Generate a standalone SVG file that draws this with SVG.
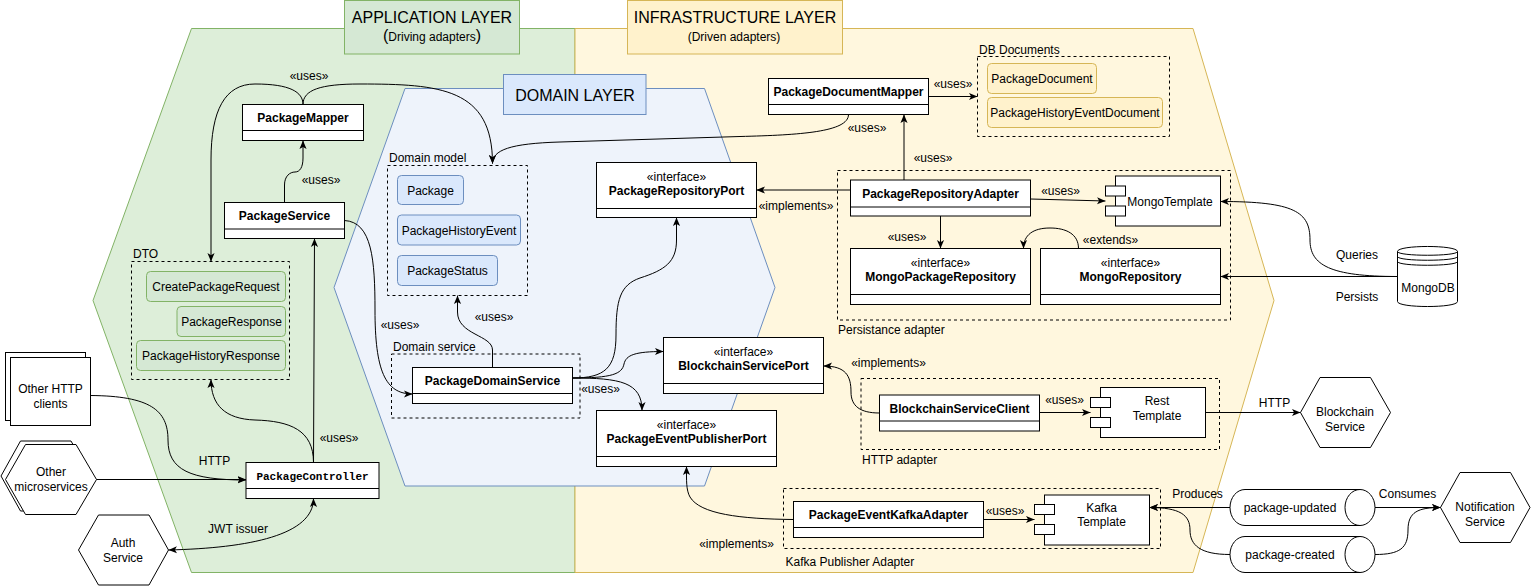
<svg xmlns="http://www.w3.org/2000/svg" width="1531" height="586" viewBox="0 0 1531 586">
<defs>
<marker id="arr" viewBox="0 0 10 10" refX="10" refY="5" markerWidth="8.5" markerHeight="8.5" markerUnits="userSpaceOnUse" orient="auto-start-reverse"><path d="M0,0.8 L10,5 L0,9.2 L2.5,5 Z" fill="#000"/></marker>
<style>
.t{font-family:"Liberation Sans",Arial,sans-serif;font-size:12px;fill:#000}
.c{text-anchor:middle}
.b{font-weight:bold}
.m{font-family:"Liberation Mono","Courier New",monospace;font-size:11px;font-weight:bold;fill:#000}
.big{font-size:16px}
.cls{fill:#fff;stroke:#000;stroke-width:1}
.cont{fill:none;stroke:#000;stroke-width:1;stroke-dasharray:3 3}
.g{fill:#d5e8d4;stroke:#82b366}
.bl{fill:#dae8fc;stroke:#6c8ebf}
.y{fill:#fff2cc;stroke:#d6b656}
.e{fill:none;stroke:#000;stroke-width:1;marker-end:url(#arr)}
.sh{fill:#fff;stroke:#000;stroke-width:1}
</style>
</defs>
<rect width="1531" height="586" fill="#fff"/>
<g id="application-layer">
<polygon points="191.5,28.5 575,28.5 575,572.5 191.5,572.5 93,300.5" fill="#ddeed9" stroke="#82b366"/>
</g>
<g id="infrastructure-layer">
<polygon points="575,28.5 1193,28.5 1274,300.5 1193,572.5 575,572.5" fill="#fff7de" stroke="#d6b656"/>
</g>
<g id="domain-layer">
<polygon points="405,88.5 704.5,88.5 775,287.5 704.5,486 405,486 334,287.5" fill="#eef3fb" stroke="#6c8ebf"/>
</g>
<g id="title-application">
<rect x="344.5" y="0.5" width="175" height="53.5" class="g"/>
<text x="432" y="23" class="t c big">APPLICATION LAYER</text>
<text x="432" y="41" class="t c"><tspan font-size="16">(</tspan>Driving adapters<tspan font-size="16">)</tspan></text>
</g>
<g id="title-infrastructure">
<rect x="627.5" y="0.5" width="215" height="53.5" class="y"/>
<text x="735" y="23" class="t c big">INFRASTRUCTURE LAYER</text>
<text x="734" y="41" class="t c">(Driven adapters)</text>
</g>
<g id="title-domain">
<rect x="503.5" y="74.5" width="142.5" height="40" class="bl"/>
<text x="575" y="100.5" class="t c big">DOMAIN LAYER</text>
</g>

<g id="dto">
<rect x="131.5" y="261.5" width="158" height="118" class="cont"/>
<text x="133" y="258" class="t">DTO</text>
<rect x="146.5" y="271.5" width="139" height="30" rx="4" class="g"/>
<text x="216" y="291" class="t c">CreatePackageRequest</text>
<rect x="177" y="306.5" width="108.5" height="30" rx="4" class="g"/>
<text x="231.5" y="326" class="t c">PackageResponse</text>
<rect x="136.5" y="340.5" width="149" height="30" rx="4" class="g"/>
<text x="211" y="360" class="t c">PackageHistoryResponse</text>
</g>
<g id="domain-model">
<rect x="387.5" y="165.5" width="140" height="130" class="cont"/>
<text x="389" y="162" class="t">Domain model</text>
<rect x="397.5" y="175.5" width="66" height="29" rx="4" class="bl"/>
<text x="430.5" y="194.5" class="t c">Package</text>
<rect x="397.5" y="215" width="123" height="30" rx="4" class="bl"/>
<text x="459" y="234.5" class="t c">PackageHistoryEvent</text>
<rect x="397.5" y="255.5" width="100" height="30" rx="4" class="bl"/>
<text x="447.5" y="275" class="t c">PackageStatus</text>
</g>
<g id="domain-service">
<rect x="391.5" y="354" width="188.5" height="64" class="cont"/>
<text x="393" y="351" class="t">Domain service</text>
</g>
<g id="db-documents">
<rect x="977.5" y="56.5" width="192" height="80" class="cont"/>
<text x="979" y="53.5" class="t">DB Documents</text>
<rect x="987.5" y="63.5" width="109" height="30" rx="4" class="y"/>
<text x="1042" y="83" class="t c">PackageDocument</text>
<rect x="987.5" y="97.5" width="175" height="30" rx="4" class="y"/>
<text x="1075" y="117" class="t c">PackageHistoryEventDocument</text>
</g>
<g id="persistance-adapter">
<rect x="837.5" y="170.5" width="393" height="149.5" class="cont"/>
<text x="838" y="334" class="t">Persistance adapter</text>
</g>
<g id="http-adapter">
<rect x="861" y="378.5" width="358.5" height="71" class="cont"/>
<text x="862" y="463.5" class="t">HTTP adapter</text>
</g>
<g id="kafka-publisher-adapter">
<rect x="783.5" y="488.5" width="377" height="60" class="cont"/>
<text x="785.5" y="566" class="t">Kafka Publisher Adapter</text>
</g>

<g id="PackageMapper">
<rect x="242.5" y="104.5" width="121" height="36" class="cls"/>
<line x1="242.5" y1="130.5" x2="363.5" y2="130.5" stroke="#000"/>
<text x="303" y="122" class="t c b">PackageMapper</text>
</g>
<g id="PackageService">
<rect x="224.5" y="202.5" width="120" height="36" class="cls"/>
<line x1="224.5" y1="229" x2="344.5" y2="229" stroke="#000"/>
<text x="284.5" y="220" class="t c b">PackageService</text>
</g>
<g id="PackageController">
<rect x="246" y="462.5" width="133" height="36" class="cls"/>
<line x1="246" y1="488.5" x2="379" y2="488.5" stroke="#000"/>
<text x="312.5" y="480" class="m c">PackageController</text>
</g>
<g id="PackageDomainService">
<rect x="412.5" y="367.5" width="160" height="36" class="cls"/>
<line x1="412.5" y1="393.5" x2="572.5" y2="393.5" stroke="#000"/>
<text x="492.5" y="385" class="t c b">PackageDomainService</text>
</g>
<g id="PackageRepositoryPort">
<rect x="596.5" y="162.5" width="160" height="55" class="cls"/>
<line x1="596.5" y1="208.5" x2="756.5" y2="208.5" stroke="#000"/>
<text x="676.5" y="180.5" class="t c">«interface»</text>
<text x="676.5" y="194.5" class="t c b">PackageRepositoryPort</text>
</g>
<g id="BlockchainServicePort">
<rect x="663.5" y="337.5" width="160" height="56" class="cls"/>
<line x1="663.5" y1="383.5" x2="823.5" y2="383.5" stroke="#000"/>
<text x="743.5" y="355.5" class="t c">«interface»</text>
<text x="743.5" y="369.5" class="t c b">BlockchainServicePort</text>
</g>
<g id="PackageEventPublisherPort">
<rect x="596.5" y="410.5" width="180" height="56" class="cls"/>
<line x1="596.5" y1="456.5" x2="776.5" y2="456.5" stroke="#000"/>
<text x="686.5" y="428.5" class="t c">«interface»</text>
<text x="686.5" y="442.5" class="t c b">PackageEventPublisherPort</text>
</g>
<g id="PackageDocumentMapper">
<rect x="768.5" y="78.5" width="160" height="36" class="cls"/>
<line x1="768.5" y1="104.5" x2="928.5" y2="104.5" stroke="#000"/>
<text x="848.5" y="96" class="t c b">PackageDocumentMapper</text>
</g>
<g id="PackageRepositoryAdapter">
<rect x="850.5" y="180" width="180" height="36" class="cls"/>
<line x1="850.5" y1="207" x2="1030.5" y2="207" stroke="#000"/>
<text x="940.5" y="197.5" class="t c b">PackageRepositoryAdapter</text>
</g>
<g id="MongoTemplate">
<rect x="1115.5" y="176" width="105" height="50" class="sh"/>
<rect x="1105.5" y="186" width="20" height="10" class="sh"/>
<rect x="1105.5" y="206" width="20" height="10" class="sh"/>
<text x="1170" y="205.5" class="t c">MongoTemplate</text>
</g>
<g id="MongoPackageRepository">
<rect x="850.5" y="248.5" width="180" height="56" class="cls"/>
<line x1="850.5" y1="294.5" x2="1030.5" y2="294.5" stroke="#000"/>
<text x="940.5" y="266.5" class="t c">«interface»</text>
<text x="940.5" y="280.5" class="t c b">MongoPackageRepository</text>
</g>
<g id="MongoRepository">
<rect x="1040.5" y="248.5" width="180" height="56" class="cls"/>
<line x1="1040.5" y1="294.5" x2="1220.5" y2="294.5" stroke="#000"/>
<text x="1130.5" y="266.5" class="t c">«interface»</text>
<text x="1130.5" y="280.5" class="t c b">MongoRepository</text>
</g>
<g id="BlockchainServiceClient">
<rect x="879.5" y="395" width="160" height="36" class="cls"/>
<line x1="879.5" y1="421" x2="1039.5" y2="421" stroke="#000"/>
<text x="959.5" y="412.5" class="t c b">BlockchainServiceClient</text>
</g>
<g id="RestTemplate">
<rect x="1100.5" y="387.5" width="105" height="50" class="sh"/>
<rect x="1090.5" y="397.5" width="20" height="10" class="sh"/>
<rect x="1090.5" y="417.5" width="20" height="10" class="sh"/>
<text x="1157" y="405" class="t c">Rest</text>
<text x="1157" y="419.5" class="t c">Template</text>
</g>
<g id="PackageEventKafkaAdapter">
<rect x="793.5" y="501.5" width="190" height="36" class="cls"/>
<line x1="793.5" y1="527.5" x2="983.5" y2="527.5" stroke="#000"/>
<text x="888.5" y="519" class="t c b">PackageEventKafkaAdapter</text>
</g>
<g id="KafkaTemplate">
<rect x="1044.5" y="495" width="105" height="50" class="sh"/>
<rect x="1034.5" y="504.5" width="20" height="10" class="sh"/>
<rect x="1034.5" y="524.5" width="20" height="10" class="sh"/>
<text x="1101.5" y="512" class="t c">Kafka</text>
<text x="1101.5" y="526" class="t c">Template</text>
</g>

<g id="OtherHTTPClients">
<rect x="5.5" y="352.5" width="80" height="68" class="sh"/>
<rect x="10.5" y="357.5" width="80" height="68" class="sh"/>
<text x="50.5" y="393" class="t c">Other HTTP</text>
<text x="50.5" y="408" class="t c">clients</text>
</g>
<g id="OtherMicroservices">
<polygon points="20.5,441 71,441 91,476 71,511 20.5,511 1,476" class="sh"/>
<polygon points="25.5,444.5 76,444.5 96.5,479.5 76,514.5 25.5,514.5 5.5,479.5" class="sh"/>
<text x="51" y="476" class="t c">Other</text>
<text x="51" y="491" class="t c">microservices</text>
</g>
<g id="AuthService">
<polygon points="98.5,515 149,515 168.5,550 149,585 98.5,585 78.5,550" class="sh"/>
<text x="123" y="547" class="t c">Auth</text>
<text x="123" y="562" class="t c">Service</text>
</g>
<g id="MongoDB">
<path d="M1397.5,251.5 C1397.5,244.8 1457.5,244.8 1457.5,251.5 L1457.5,301.5 C1457.5,308.2 1397.5,308.2 1397.5,301.5 Z" class="sh"/>
<path d="M1397.5,251.5 C1397.5,256.5 1457.5,256.5 1457.5,251.5 M1397.5,256.5 C1397.5,261.5 1457.5,261.5 1457.5,256.5 M1397.5,261.5 C1397.5,266.5 1457.5,266.5 1457.5,261.5" fill="none" stroke="#000"/>
<text x="1428" y="292" class="t c">MongoDB</text>
</g>
<g id="BlockchainService">
<polygon points="1320,377.5 1370.5,377.5 1390.5,412.5 1370.5,447.5 1320,447.5 1300.5,412.5" class="sh"/>
<text x="1345" y="416" class="t c">Blockchain</text>
<text x="1345" y="431" class="t c">Service</text>
</g>
<g id="NotificationService">
<polygon points="1460,472.5 1510.5,472.5 1530,507.5 1510.5,542.5 1460,542.5 1440.5,507.5" class="sh"/>
<text x="1485" y="511" class="t c">Notification</text>
<text x="1485" y="526" class="t c">Service</text>
</g>
<g id="package-updated">
<path d="M1245,489.5 L1360,489.5 A15,18 0 0 1 1360,525.5 L1245,525.5 A15,18 0 0 1 1245,489.5 Z" class="sh"/>
<path d="M1360,489.5 A15,18 0 0 0 1360,525.5" fill="none" stroke="#000"/>
<text x="1290" y="512" class="t c">package-updated</text>
</g>
<g id="package-created">
<path d="M1245,536.5 L1360,536.5 A15,18 0 0 1 1360,572.5 L1245,572.5 A15,18 0 0 1 1245,536.5 Z" class="sh"/>
<path d="M1360,536.5 A15,18 0 0 0 1360,572.5" fill="none" stroke="#000"/>
<text x="1290" y="559" class="t c">package-created</text>
</g>

<g id="connectors">
<path class="e" d="M303,104.5 C303,92 290,84 255,84 C225,84 211,110 211,160 L211,261.5"/>
<path class="e" d="M303,104.5 C303,90 320,84 360,84 C440,84 492.5,88 492.5,163.5"/>
<text x="309" y="79.5" class="t c">«uses»</text>
<path class="e" d="M284.5,202.5 L284.5,185 C284.5,176 290,172 295,172 C300,172 303,167 303,158 L303,140.5"/>
<text x="321" y="183.5" class="t c">«uses»</text>
<path class="e" d="M344.5,220.5 C372,222 375,260 375,310 C375,370 385,394 412.5,394"/>
<text x="400" y="328.5" class="t c">«uses»</text>
<path class="e" d="M313.5,462.5 L314.5,238.5"/>
<text x="339" y="441.5" class="t c">«uses»</text>
<path class="e" d="M313.5,462.5 C313.5,430 290,421 255,420 C225,419 211,405 211,379.5"/>
<path class="e" d="M90.5,395.5 C150,396 168,410 168,440 C168,470 190,480 246,480"/>
<text x="214.5" y="465" class="t c">HTTP</text>
<path class="e" d="M96.5,479.5 L246,479.5"/>
<path class="e" style="marker-start:url(#arr)" d="M313.5,498.5 C313.5,535 250,548 168.5,550"/>
<text x="238" y="532.5" class="t c">JWT issuer</text>
<path class="e" d="M492.5,367.5 L492.5,350 C492.5,335 457.5,335 457.5,312 L457.5,295.5"/>
<text x="494" y="320.5" class="t c">«uses»</text>
<path class="e" d="M572.5,378 C605,378 616,368 616,335 C616,300 620,285 640,278 C665,270 676.5,262 676.5,240 L676.5,217.5"/>
<path class="e" d="M572.5,378 C612,378 622,374 624,364 C626,355 635,351.5 663.5,351.5"/>
<path class="e" d="M572.5,378 C620,378 642,382 642,410.5"/>
<text x="600.5" y="392.5" class="t c">«uses»</text>
<path class="e" d="M848.5,114.5 C848.5,132 800,135 740,136.5 L560,142 C510,143.5 492.5,150 492.5,163.5"/>
<text x="867" y="131.5" class="t c">«uses»</text>
<path class="e" d="M928.5,96.5 L977.5,96.5"/>
<text x="953" y="87.5" class="t c">«uses»</text>
<path class="e" d="M904,180 L904,114.5"/>
<text x="933" y="161.5" class="t c">«uses»</text>
<path class="e" d="M850.5,190 L756.5,190"/>
<text x="796" y="209.5" class="t c">«implements»</text>
<path class="e" d="M1030.5,199 L1105.5,201"/>
<text x="1060.5" y="194.5" class="t c">«uses»</text>
<path class="e" d="M940.5,216 L940.5,248.5"/>
<text x="907" y="240.5" class="t c">«uses»</text>
<path class="e" d="M1078.5,248.5 C1078.5,234 1066,228 1050,228 C1033,228 1023.5,235 1023.5,248.5"/>
<text x="1110.5" y="243.5" class="t c">«extends»</text>
<path class="e" d="M1397.5,276.5 C1330,276.5 1310,265 1310,240 C1310,212 1295,201.5 1220.5,201.5"/>
<text x="1357" y="258.5" class="t c">Queries</text>
<path class="e" d="M1397.5,276.5 L1220.5,276.5"/>
<text x="1357" y="300.5" class="t c">Persists</text>
<path class="e" d="M879.5,413 C860,413 851,406 851,392 C851,376 846,366 823.5,366"/>
<text x="888.5" y="366.5" class="t c">«implements»</text>
<path class="e" d="M1039.5,412.5 L1090.5,412.5"/>
<text x="1064.5" y="403.5" class="t c">«uses»</text>
<path class="e" d="M1205.5,412.5 L1300.5,412.5"/>
<text x="1274.5" y="406.5" class="t c">HTTP</text>
<path class="e" d="M793.5,519.5 C740,519 700,514 690,497 C686,490 686.5,480 686.5,466.5"/>
<text x="736.5" y="547.5" class="t c">«implements»</text>
<path class="e" d="M983.5,519.5 L1034.5,519.5"/>
<text x="1005" y="514.5" class="t c">«uses»</text>
<path class="e" d="M1230,507.5 L1149.5,507.5"/>
<text x="1197.5" y="498" class="t c">Produces</text>
<path class="e" d="M1230,554.5 C1200,554.5 1190,545 1190,530 C1190,515 1180,507.5 1149.5,507.5"/>
<path class="e" d="M1375,507.5 L1440.5,507.5"/>
<text x="1407.5" y="498" class="t c">Consumes</text>
<path class="e" d="M1375,554.5 C1400,554.5 1408,548 1408,530 C1408,512 1418,507.5 1440.5,507.5"/>
</g>
</svg>
